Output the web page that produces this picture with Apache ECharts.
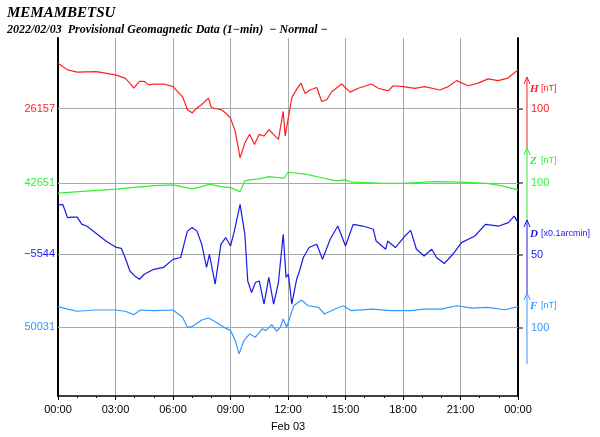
<!DOCTYPE html>
<html>
<head>
<meta charset="utf-8">
<script src="https://cdn.jsdelivr.net/npm/echarts@6/dist/echarts.min.js"></script>
<style>html,body{margin:0;padding:0;background:#fff}#chart{width:600px;height:437px}</style>
</head>
<body>
<div id="chart"></div>
<script>
// baselines (left labels)
var H_BASE = 26157, Z_BASE = 42651, D_BASE = -5544, F_BASE = 50031;

// hours of day, offset from baseline (nT, or 0.1 arcmin for D)
var hHours = [0,0.25,0.5,1,2,3,3.5,3.75,3.95,4.25,4.5,4.75,5,5.5,6,6.5,6.75,7,7.25,7.5,7.85,8,8.25,8.5,8.75,9,9.25,9.5,9.75,10,10.25,10.5,10.75,11,11.25,11.5,11.75,11.85,11.94,12.2,12.54,12.68,12.89,13.15,13.5,13.76,14.02,14.28,14.8,15.24,15.67,16.36,16.71,17.23,17.49,18.01,18.62,19.14,19.92,20.36,20.79,21.4,21.92,22.44,22.96,23.48,24];
var hOff = [53.5,49.5,45.6,43,43.6,39.8,35.9,30,24.2,32,32,28,29,29,26,14,-1,-5,1,5,12.5,1.5,0,-1,-5,-11,-26.5,-57.7,-40,-30,-42,-30,-32,-24.6,-30,-36,-3,-32,-34,13,26,30,18,22,25,8.5,10.5,20,29,19.5,24,29,24,21,27,26,24,26,22,26,33,27,30,35,33,36,45.6];

var zHours = [0,3,5,6,7,7.5,7.9,8.5,9,9.5,9.75,10,10.5,11,11.5,11.8,12,12.1,12.9,13.9,14.5,15,15.3,17,18,19.7,21,22.3,23.1,24];
var zOff = [-12,-7.4,-3.2,-2.3,-7,-4.3,-1.5,-4.3,-5.5,-10.2,2.3,3.5,4.7,7.4,6.2,5.5,12.5,12.5,10.2,5.5,2.3,3.5,0.8,-0.4,-0.4,1.5,0.8,-0.4,-3.2,-8.2];

var dHours = [0,0.25,0.5,0.75,1,1.25,1.5,2,2.5,3,3.3,3.5,3.75,4,4.25,4.5,5,5.5,6,6.4,6.75,7,7.25,7.5,7.75,7.9,8.2,8.5,8.75,9,9.2,9.5,9.75,9.9,10.1,10.3,10.5,10.75,11,11.25,11.5,11.75,11.9,12.02,12.2,12.45,12.6,12.8,13.1,13.5,13.8,14.2,14.6,15,15.4,15.9,16.45,16.6,17.1,17.2,17.6,18.1,18.4,18.7,19.1,19.5,19.75,20.15,20.6,21.05,21.75,22.3,23,23.5,23.8,24];
var dOff = [32,32.5,23.9,24.2,24.2,19.5,18.4,13.5,8.6,4.7,3.9,-2.1,-10.9,-14.1,-16.3,-13,-9.8,-8.6,-3.3,-2.1,15.1,17.4,15.1,6.5,-8.6,0,-19.5,6.5,10.9,5.4,15.1,32.5,13,-17.4,-24.9,-18.4,-17.4,-32.5,-15.1,-32.5,-18.4,13,-15.1,-13,-32.5,-16.3,-10.9,-2.1,4.4,6.5,-3.3,9.8,18.4,5.4,19.5,18.4,16.3,8.6,3.3,8.6,4.4,11.9,15.6,3.3,-1.1,3.3,-2.1,-6,0,7.6,11.9,19.5,18.4,20.6,24.9,20.6];

var fHours = [0,0.5,1,2,3,3.5,3.95,4.3,5,6,6.5,6.75,7,7.5,7.85,8.25,8.6,9,9.25,9.45,9.7,10,10.3,10.65,10.85,11.15,11.4,11.6,11.75,11.93,12.3,12.7,13.05,13.6,13.9,14.45,14.9,15.3,16.4,17.4,18.4,19.1,20,20.8,21.6,22.4,23.3,24];
var fOff = [23.8,21,18.4,19.9,19.9,18.4,14.4,19.9,19.1,19.9,11.3,-0.4,0.4,8.2,10.5,5.5,0.4,-4.3,-16,-31.6,-16,-8.2,-12,-2.3,-4.3,2.7,-5,-0.4,9.4,-0.4,24.9,31.6,24.9,23,15.2,21,24.9,19.1,21,19.1,19.1,21,21,24.9,22.2,23,20.2,23.8];

var C_H = '#ff2020', C_Z = '#33ee33', C_D = '#1a1ae6', C_F = '#3399ff';

function build(hours, off, base) {
    var out = [];
    for (var i = 0; i < hours.length; i++) out.push([hours[i] * 60, base + off[i]]);
    return out;
}

function pad(n) { return (n < 10 ? '0' : '') + n; }

function series(name, color, idx, hours, off, base) {
    return {
        name: name, type: 'line', yAxisIndex: idx, showSymbol: false, symbol: 'none',
        lineStyle: {color: color, width: 1.2}, itemStyle: {color: color},
        data: build(hours, off, base), z: 3,
        markLine: {
            silent: true, symbol: 'none', z: 1,
            lineStyle: {color: '#a8a8a8', type: 'solid', width: 1},
            label: {position: 'start', color: color, fontSize: 11, fontFamily: 'Liberation Sans', distance: 3,
                    formatter: String(base).replace('-', '\u2212')},
            data: [{yAxis: base}]
        }
    };
}

function yax(min, max, pos, showLine) {
    return {
        type: 'value', min: min, max: max, position: pos,
        axisLine: {show: showLine, lineStyle: {color: '#000', width: 2}},
        axisTick: {show: false}, axisLabel: {show: false}, splitLine: {show: false}
    };
}

var serif = 'Liberation Serif';
var option = {
    animation: false,
    backgroundColor: '#fff',
    grid: {left: 58, right: 82, top: 38, bottom: 40},
    title: [
        {text: 'MEMAMBETSU', left: 2, top: 1,
         textStyle: {fontFamily: serif, fontStyle: 'italic', fontWeight: 'bold', fontSize: 15, color: '#000'}},
        {text: '2022/02/03  Provisional Geomagnetic Data (1\u2212min)  \u2212 Normal \u2212', left: 2, top: 19,
         textStyle: {fontFamily: serif, fontStyle: 'italic', fontWeight: 'bold', fontSize: 12, color: '#000'}}
    ],
    xAxis: {
        type: 'value', min: 0, max: 1440, interval: 180,
        name: 'Feb 03', nameLocation: 'middle', nameGap: 25,
        nameTextStyle: {fontSize: 11, color: '#000', fontFamily: 'Liberation Sans'},
        axisLine: {lineStyle: {color: '#000', width: 1.5}},
        axisTick: {length: 4, lineStyle: {color: '#000'}},
        minorTick: {show: true, splitNumber: 3, length: 2, lineStyle: {color: '#000'}},
        axisLabel: {fontSize: 11, color: '#000', fontFamily: 'Liberation Sans', margin: 8,
                    formatter: function (v) { return pad(Math.floor(v / 60) % 24) + ':00'; }},
        splitLine: {show: true, lineStyle: {color: '#a8a8a8', width: 1}}
    },
    yAxis: [
        yax(25820, 26240, 'left', true),
        yax(42401, 42821, 'right', true),
        yax(-5636.4, -5403, 'left', false),
        yax(49950, 50370, 'left', false)
    ],
    series: [
        series('H', C_H, 0, hHours, hOff, H_BASE),
        series('Z', C_Z, 1, zHours, zOff, Z_BASE),
        series('D', C_D, 2, dHours, dOff, D_BASE),
        series('F', C_F, 3, fHours, fOff, F_BASE)
    ]
};

// scale bars on the right
var bars = [
    {c: C_H, top: 77, bot: 148, label: 'H', unit: '[nT]', lab: '100', ly: 109, ny: 89},
    {c: C_Z, top: 148, bot: 220, label: 'Z', unit: '[nT]', lab: '100', ly: 183, ny: 161},
    {c: C_D, top: 220, bot: 293, label: 'D', unit: '[x0.1arcmin]', lab: '50', ly: 255, ny: 234},
    {c: C_F, top: 293, bot: 364, label: 'F', unit: '[nT]', lab: '100', ly: 328, ny: 306}
];
var g = [];
bars.forEach(function (b) {
    var x = 527;
    g.push({type: 'line', shape: {x1: x, y1: b.top, x2: x, y2: b.bot}, style: {stroke: b.c, lineWidth: 1}});
    g.push({type: 'polyline', shape: {points: [[x - 3, b.top + 7], [x, b.top], [x + 3, b.top + 7]]}, style: {stroke: b.c, fill: null, lineWidth: 1}});
    g.push({type: 'line', shape: {x1: 518, y1: b.ly, x2: 523, y2: b.ly}, style: {stroke: '#000', lineWidth: 1}});
    g.push({type: 'text', x: 531, y: b.ly, style: {text: b.lab, fill: b.c, font: '11px Liberation Sans', textVerticalAlign: 'middle'}});
    g.push({type: 'text', x: 530, y: b.ny, style: {text: b.label, fill: b.c, font: 'italic bold 11px Liberation Serif', textVerticalAlign: 'middle'}});
    g.push({type: 'text', x: 541, y: b.ny, style: {text: b.unit, fill: b.c, font: '9px Liberation Sans', textVerticalAlign: 'middle'}});
});
option.graphic = g;

var myChart = echarts.init(document.getElementById('chart'));
myChart.setOption(option);
</script>
</body>
</html>
